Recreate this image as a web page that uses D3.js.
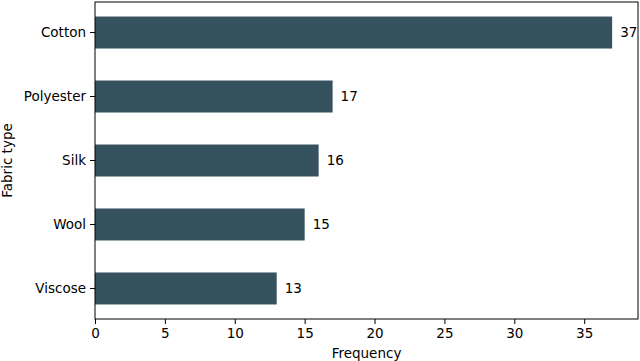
<!DOCTYPE html>
<html>
<head>
<meta charset="utf-8">
<script src="https://cdn.jsdelivr.net/npm/d3@7"></script>
<style>
  body { margin: 0; background: #fff; }
  text { font-family: "DejaVu Sans", sans-serif; }
</style>
</head>
<body>
<div id="chart"></div>
<script>
// Data
var fabrics = ["Cotton", "Polyester", "Silk", "Wool", "Viscose"];
var counts = [37, 17, 16, 15, 13];
var xTicks = [0, 5, 10, 15, 20, 25, 30, 35];

var margin = { top: 2, right: 2, bottom: 42, left: 95 };
var width = 640 - margin.left - margin.right;
var height = 361 - margin.top - margin.bottom;
var fontSize = 13.5;
var barColor = "#36525e";

var svg = d3.select("#chart")
    .append("svg")
    .attr("width", 640)
    .attr("height", 361)
    .append("g")
    .attr("transform", "translate(" + margin.left + "," + margin.top + ")");

// Scales
var xScale = d3.scaleLinear().domain([0, d3.max(counts) * 1.05]).range([0, width]);
var yScale = d3.scaleBand().domain(fabrics).range([0, height])
    .paddingInner(0.5).paddingOuter(0.227);

// Bars
svg.selectAll("rect.bar")
    .data(fabrics)
    .enter()
    .append("rect")
    .attr("class", "bar")
    .attr("x", xScale(0))
    .attr("y", function (d) { return yScale(d); })
    .attr("width", function (d, i) { return xScale(counts[i]) - xScale(0); })
    .attr("height", yScale.bandwidth())
    .style("fill", barColor);

// Value labels
svg.selectAll("text.value")
    .data(fabrics)
    .enter()
    .append("text")
    .attr("class", "value")
    .attr("x", function (d, i) { return xScale(counts[i]) + 8; })
    .attr("y", function (d) { return yScale(d) + yScale.bandwidth() / 2; })
    .attr("dy", "0.35em")
    .style("font-size", fontSize + "px")
    .style("fill", "#000")
    .text(function (d, i) { return counts[i]; });

// X axis
var xAxis = svg.append("g")
    .attr("transform", "translate(0," + height + ")")
    .call(d3.axisBottom(xScale).tickValues(xTicks).tickSize(5).tickPadding(4));
xAxis.select(".domain").remove();
xAxis.selectAll("text").style("font-size", fontSize + "px").style("font-family", "DejaVu Sans").style("fill", "#000");
xAxis.selectAll("line").style("stroke", "#000");

// Y axis
var yAxis = svg.append("g")
    .call(d3.axisLeft(yScale).tickSize(5).tickPadding(4));
yAxis.select(".domain").remove();
yAxis.selectAll("text").style("font-size", fontSize + "px").style("font-family", "DejaVu Sans").style("fill", "#000");
yAxis.selectAll("line").style("stroke", "#000");

// Frame
svg.append("rect")
    .attr("x", 0)
    .attr("y", 0)
    .attr("width", width)
    .attr("height", height)
    .style("fill", "none")
    .style("stroke", "#000")
    .style("stroke-width", 1);

// Axis labels
svg.append("text")
    .attr("text-anchor", "middle")
    .attr("x", width / 2)
    .attr("y", height + 39)
    .style("font-size", fontSize + "px")
    .text("Frequency");

svg.append("text")
    .attr("text-anchor", "middle")
    .attr("transform", "translate(" + (-83) + "," + (height / 2) + ") rotate(-90)")
    .style("font-size", fontSize + "px")
    .text("Fabric type");
</script>
</body>
</html>
